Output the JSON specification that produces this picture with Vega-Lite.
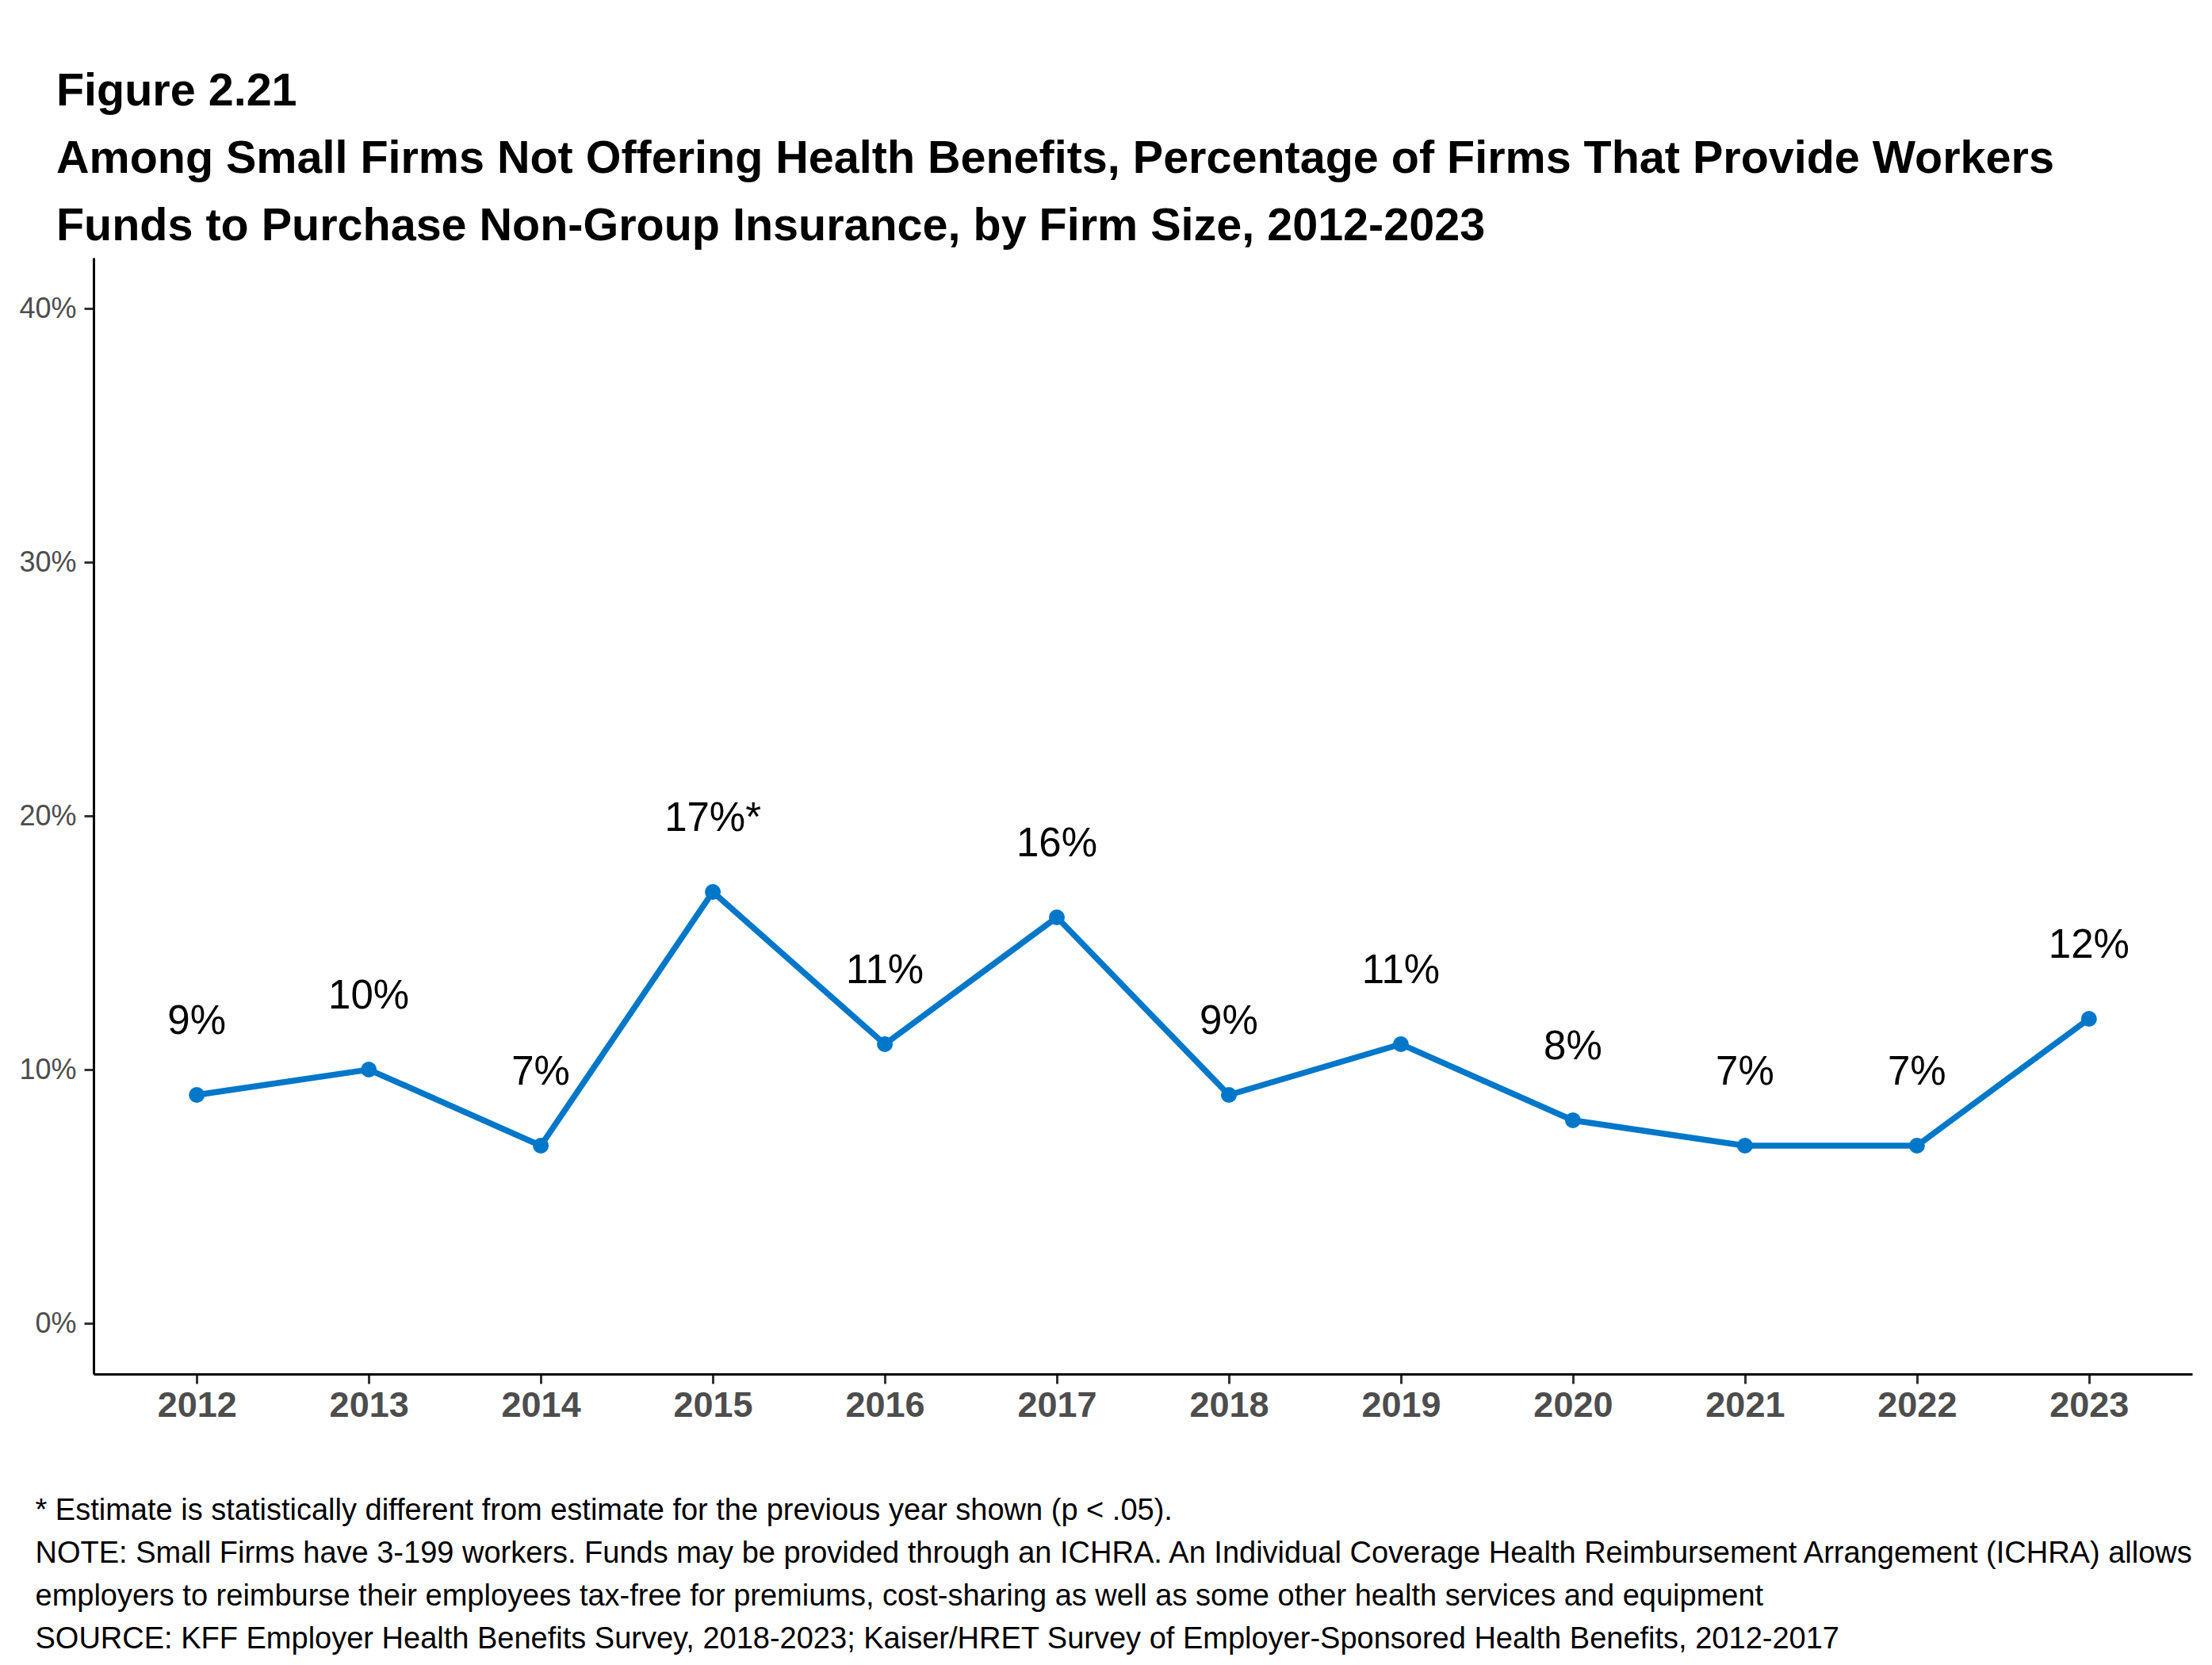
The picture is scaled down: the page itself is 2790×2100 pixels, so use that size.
{
  "$schema": "https://vega.github.io/schema/vega-lite/v6.json",
  "width": 2647,
  "height": 1408,
  "autosize": "none",
  "padding": {"left": 118, "top": 325, "right": 25, "bottom": 367},
  "background": "white",
  "config": {
    "view": {"stroke": null},
    "font": "Liberation Sans"
  },
  "title": {
    "text": [
      "Figure 2.21",
      "Among Small Firms Not Offering Health Benefits, Percentage of Firms That Provide Workers",
      "Funds to Purchase Non-Group Insurance, by Firm Size, 2012-2023"
    ],
    "anchor": "start",
    "frame": "group",
    "dx": -47,
    "offset": 10,
    "font": "Liberation Sans",
    "fontSize": 57.5,
    "fontWeight": "bold",
    "lineHeight": 85,
    "color": "black"
  },
  "data": {
    "values": [
      {"year": "2012", "pct": 9, "label": "9%"},
      {"year": "2013", "pct": 10, "label": "10%"},
      {"year": "2014", "pct": 7, "label": "7%"},
      {"year": "2015", "pct": 17, "label": "17%*"},
      {"year": "2016", "pct": 11, "label": "11%"},
      {"year": "2017", "pct": 16, "label": "16%"},
      {"year": "2018", "pct": 9, "label": "9%"},
      {"year": "2019", "pct": 11, "label": "11%"},
      {"year": "2020", "pct": 8, "label": "8%"},
      {"year": "2021", "pct": 7, "label": "7%"},
      {"year": "2022", "pct": 7, "label": "7%"},
      {"year": "2023", "pct": 12, "label": "12%"}
    ]
  },
  "encoding": {
    "x": {
      "field": "year",
      "type": "ordinal",
      "scale": {"type": "point", "padding": 0.6},
      "axis": {
        "labelAngle": 0,
        "labelFont": "Liberation Sans",
        "labelFontSize": 45,
        "labelFontWeight": "bold",
        "labelColor": "#4d4d4d",
        "labelPadding": 5,
        "domainColor": "black",
        "domainWidth": 3,
        "tickColor": "#333333",
        "tickWidth": 3,
        "tickSize": 12,
        "grid": false,
        "title": [
          "* Estimate is statistically different from estimate for the previous year shown (p < .05).",
          "NOTE: Small Firms have 3-199 workers. Funds may be provided through an ICHRA. An Individual Coverage Health Reimbursement Arrangement (ICHRA) allows",
          "employers to reimburse their employees tax-free for premiums, cost-sharing as well as some other health services and equipment",
          "SOURCE: KFF Employer Health Benefits Survey, 2018-2023; Kaiser/HRET Survey of Employer-Sponsored Health Benefits, 2012-2017"
        ],
        "titleFont": "Liberation Sans",
        "titleFontSize": 38,
        "titleFontWeight": "normal",
        "titleColor": "black",
        "titleLineHeight": 54,
        "titleAnchor": "start",
        "titleAlign": "left",
        "titleBaseline": "alphabetic",
        "titleX": -74,
        "titleY": 183
      }
    },
    "y": {
      "field": "pct",
      "type": "quantitative",
      "scale": {"domain": [-2, 42], "nice": false, "zero": false},
      "axis": {
        "values": [0, 10, 20, 30, 40],
        "labelExpr": "datum.value + '%'",
        "labelFont": "Liberation Sans",
        "labelFontSize": 36,
        "labelColor": "#4d4d4d",
        "labelPadding": 10,
        "domainColor": "black",
        "domainWidth": 3,
        "tickColor": "#333333",
        "tickWidth": 3,
        "tickSize": 12,
        "grid": false,
        "title": null
      }
    }
  },
  "layer": [
    {
      "mark": {"type": "line", "color": "#0077c8", "strokeWidth": 7.5}
    },
    {
      "mark": {"type": "point", "filled": true, "color": "#0077c8", "opacity": 1, "size": 400}
    },
    {
      "mark": {
        "type": "text",
        "font": "Liberation Sans",
        "fontSize": 51,
        "color": "black",
        "align": "center",
        "baseline": "alphabetic",
        "dy": -77
      },
      "encoding": {"text": {"field": "label"}}
    }
  ]
}
